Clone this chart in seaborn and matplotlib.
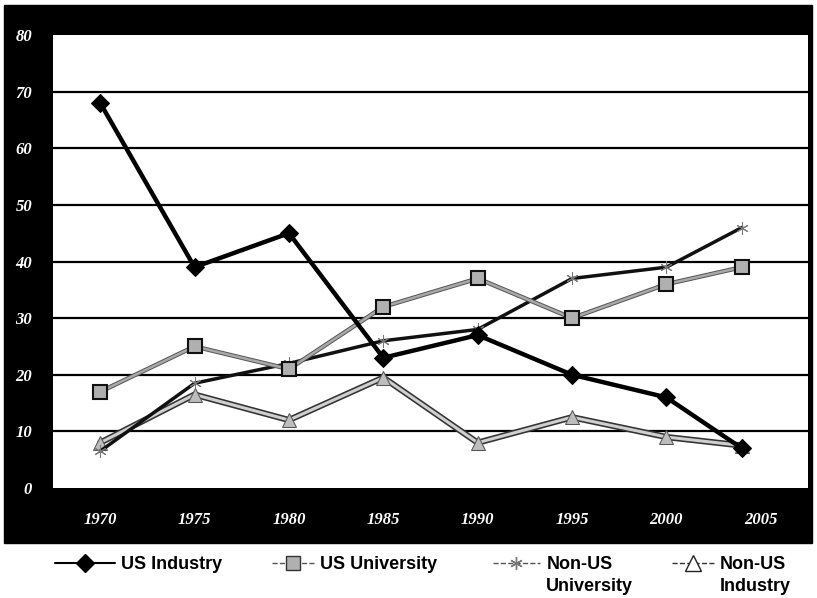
import numpy as np
import pandas as pd
import matplotlib
matplotlib.use('Agg')
import matplotlib.pyplot as plt
from matplotlib.patches import Rectangle
from matplotlib.lines import Line2D
import seaborn as sns

# values (share of papers, %)
years = [1970, 1975, 1980, 1985, 1990, 1995, 2000, 2004]
us_industry = [68, 39, 45, 23, 27, 20, 16, 7]
us_university = [17, 25, 21, 32, 37, 30, 36, 39]
non_us_university = [6.5, 18.5, 22, 26, 28, 37, 39, 46]
non_us_industry = [8, 16.5, 12, 19.5, 8, 12.5, 9, 7.5]

tick_years = [1970, 1975, 1980, 1985, 1990, 1995, 2000, 2005]
y_ticks = [0, 10, 20, 30, 40, 50, 60, 70, 80]

legend_first = ['US Industry', 'US University', 'Non-US', 'Non-US']
legend_second = ['', '', 'University', 'Industry']

sns.set_style('white')
plt.rcParams['font.family'] = ['Liberation Sans', 'DejaVu Sans']

W, H = 817, 598
fig = plt.figure(figsize=(W / 100, H / 100), dpi=100)
fig.patch.set_facecolor('white')

# black frame behind the plot area
frame = Rectangle((4 / W, 55 / H), 808 / W, 538 / H,
                  transform=fig.transFigure, facecolor='black',
                  edgecolor='black', zorder=-1)
fig.add_artist(frame)

ax = fig.add_axes([53 / W, 110 / H, 755 / W, 453 / H])
ax.set_zorder(1)
ax.set_facecolor('white')

df = pd.DataFrame({'year': years, 'us_ind': us_industry, 'us_uni': us_university,
                   'nonus_uni': non_us_university, 'nonus_ind': non_us_industry})

# non-US industry: light gray line with dark outline
sns.lineplot(data=df, x='year', y='nonus_ind', ax=ax, color='#333333', lw=4.5, zorder=3)
sns.lineplot(data=df, x='year', y='nonus_ind', ax=ax, color='#cfcfcf', lw=2.2,
             marker='^', markersize=10, markerfacecolor='#bdbdbd',
             markeredgecolor='#555555', zorder=4)

# non-US university: dark line with star markers
sns.lineplot(data=df, x='year', y='nonus_uni', ax=ax, color='#111111', lw=2.5,
             marker=(6, 2, 0), markersize=9, markeredgecolor='#777777', zorder=5)

# US university: gray line, gray squares
sns.lineplot(data=df, x='year', y='us_uni', ax=ax, color='#555555', lw=3.2, zorder=5)
sns.lineplot(data=df, x='year', y='us_uni', ax=ax, color='#a8a8a8', lw=1.8,
             marker='s', markersize=10, markerfacecolor='#b0b0b0',
             markeredgecolor='#111111', markeredgewidth=1.5, zorder=6)

# US industry: thick black with diamonds
sns.lineplot(data=df, x='year', y='us_ind', ax=ax, color='black', lw=3.2,
             marker='D', markersize=9, markerfacecolor='black',
             markeredgecolor='black', zorder=7)

ax.set_xlim(1967.5, 2007.5)
ax.set_ylim(0, 80)
ax.set_xticks(tick_years)
ax.set_yticks(y_ticks)
ax.set_xlabel('')
ax.set_ylabel('')
for v in y_ticks[1:-1]:
    ax.axhline(v, color='black', lw=1.6, zorder=1)
for s in ax.spines.values():
    s.set_visible(False)

ax.tick_params(axis='both', length=0, colors='white')
ax.tick_params(axis='x', pad=17)
ax.tick_params(axis='y', pad=15)
for lab in ax.get_xticklabels() + ax.get_yticklabels():
    lab.set_fontfamily('Liberation Serif')
    lab.set_fontstyle('italic')
    lab.set_fontweight('bold')
    lab.set_fontsize(12)
    lab.set_color('white')

handles = [
    Line2D([], [], color='black', lw=1.5, marker='D', markersize=9),
    Line2D([], [], color='#555555', lw=1, ls='--', marker='s', markersize=10,
           markerfacecolor='#b0b0b0', markeredgecolor='#333333'),
    Line2D([], [], color='#555555', lw=1, ls='--', marker=(6, 2, 0), markersize=9,
           markeredgecolor='#777777'),
    Line2D([], [], color='#333333', lw=1, ls='--', marker='^', markersize=11,
           markerfacecolor='white', markeredgecolor='#222222'),
]
leg_font = {'family': 'Liberation Sans', 'weight': 'bold', 'size': 13}
# one legend per entry so each sits where the original puts it
starts = [55, 272, 493, 672]
hlens = [3.3, 2.3, 2.6, 2.3]
legends = []
for h, lab, x0, hl in zip(handles, legend_first, starts, hlens):
    lg = fig.legend([h], [lab], loc='upper left', bbox_to_anchor=(x0 / W, 42 / H),
                    frameon=False, handlelength=hl, handletextpad=0.35,
                    borderpad=0, borderaxespad=0, prop=leg_font)
    lg.get_texts()[0].set_color('black')
    legends.append(lg)

fig.canvas.draw()
for lg, second in zip(legends, legend_second):
    if not second:
        continue
    bb = lg.get_texts()[0].get_window_extent()
    cy = (bb.y0 + bb.y1) / 2 - 22
    fig.text(bb.x0 / W, cy / H, second, ha='left', va='center',
             color='black', **leg_font)

fig.savefig('out.png', dpi=100)
